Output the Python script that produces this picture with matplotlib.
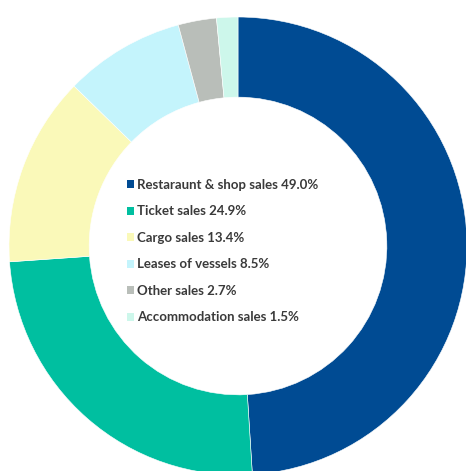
import matplotlib
matplotlib.use("Agg")
import matplotlib.pyplot as plt

labels = ["Restaraunt & shop sales", "Ticket sales", "Cargo sales",
          "Leases of vessels", "Other sales", "Accommodation sales"]
values = [49.0, 24.9, 13.4, 8.5, 2.7, 1.5]
colors = ["#004B93", "#00BFA0", "#FAF9B9", "#C4F4FC", "#B9BEB9", "#CDF7EB"]

W, H = 466, 471
fig = plt.figure(figsize=(W / 100, H / 100), dpi=100)
cx, cy, r = 238, 246, 229
ax = fig.add_axes([(cx - r) / W, (H - cy - r) / H, 2 * r / W, 2 * r / H])
wedges, _ = ax.pie(values, colors=colors, startangle=90, counterclock=False,
                   radius=1, wedgeprops=dict(width=0.35, edgecolor="white", linewidth=0.4))
ax.set_xlim(-1, 1)
ax.set_ylim(-1, 1)
ax.axis("off")

leg_labels = [f"{l} {v:.1f}%" for l, v in zip(labels, values)]
leg = fig.legend(wedges, leg_labels, loc="upper left",
                 bbox_to_anchor=(115 / W, 1 - 167 / H), frameon=False,
                 handlelength=0.55, handleheight=0.55, handletextpad=0.2,
                 labelspacing=1.1, prop=dict(family="Lato", size=9.5, weight="bold"))
for t in leg.get_texts():
    t.set_color("#3a3a3a")
for h in leg.legend_handles:
    h.set_edgecolor("none")

fig.savefig("out.png", dpi=100)
